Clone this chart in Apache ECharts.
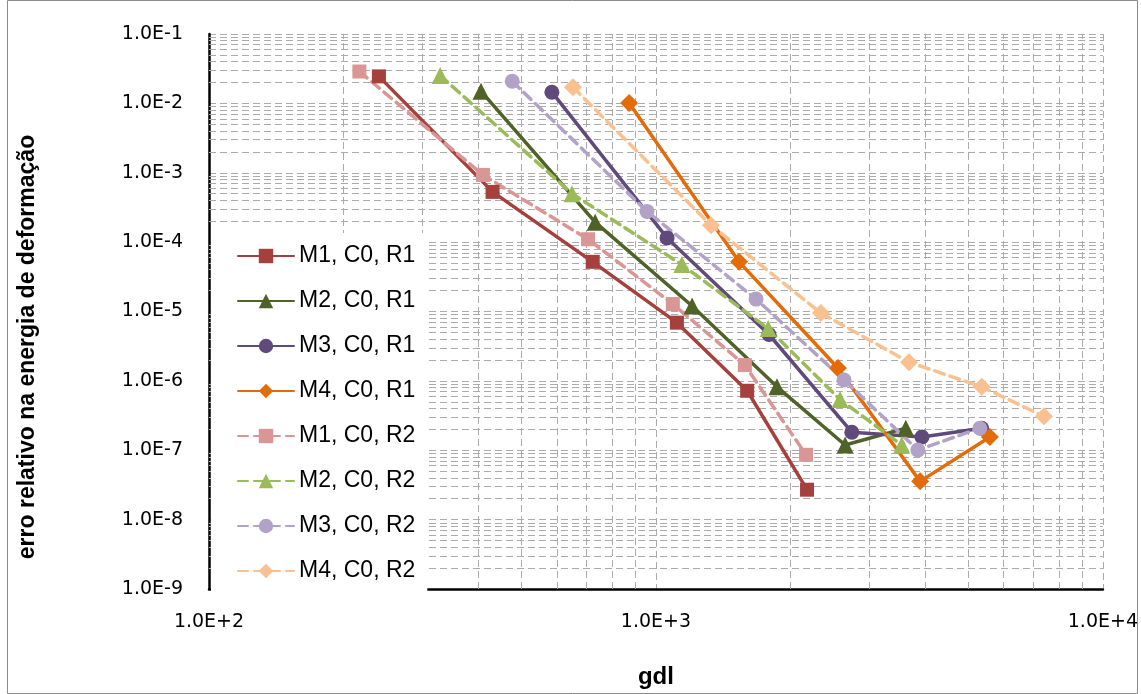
<!DOCTYPE html>
<html><head><meta charset="utf-8">
<script src="https://cdn.jsdelivr.net/npm/echarts@6/dist/echarts.min.js"></script>
<style>html,body{margin:0;padding:0;background:#fff}#c{width:1141px;height:694px}</style>
</head><body><div id="c"></div>
<script>
// ---- data ----
const seriesNames = ['M1, C0, R1','M2, C0, R1','M3, C0, R1','M4, C0, R1','M1, C0, R2','M2, C0, R2','M3, C0, R2','M4, C0, R2'];
const m1r1_x = [240, 431, 722, 1114, 1600, 2178];
const m1r1_y = [0.0245, 5.3e-4, 5.2e-5, 6.9e-6, 7.2e-7, 2.7e-8];
const m2r1_x = [406, 731, 1205, 1866, 2650, 3623];
const m2r1_y = [0.015, 1.94e-4, 1.2e-5, 8.2e-7, 1.19e-7, 2.08e-7];
const m3r1_x = [585, 1059, 1790, 2743, 3937, 5357];
const m3r1_y = [0.0145, 1.15e-4, 4.66e-6, 1.82e-7, 1.55e-7, 2.08e-7];
const m4r1_x = [871, 1535, 2553, 3900, 5586];
const m4r1_y = [0.0101, 5.2e-5, 1.53e-6, 3.56e-8, 1.55e-7];
const m1r2_x = [217, 410, 705, 1091, 1581, 2167];
const m1r2_y = [0.0288, 9.3e-4, 1.1e-4, 1.28e-5, 1.69e-6, 8.6e-8];
const m2r2_x = [329, 649, 1143, 1783, 2582, 3548];
const m2r2_y = [0.0253, 5.0e-4, 4.74e-5, 5.67e-6, 5.37e-7, 1.19e-7];
const m3r2_x = [477, 955, 1675, 2636, 3855, 5306];
const m3r2_y = [0.0208, 2.77e-4, 1.51e-5, 1.03e-6, 1.01e-7, 2.08e-7];
const m4r2_x = [652, 1328, 2339, 3683, 5357, 7380];
const m4r2_y = [0.0171, 1.75e-4, 9.5e-6, 1.86e-6, 8.2e-7, 3.08e-7];
const xTickLabels = ['1.0E+2', '1.0E+3', '1.0E+4'];
const yTickLabels = ['1.0E-9','1.0E-8','1.0E-7','1.0E-6','1.0E-5','1.0E-4','1.0E-3','1.0E-2','1.0E-1'];

// ---- styles ----
const colors = ['#A5403D','#4F6228','#604A7B','#E36C09','#D99694','#9BBB59','#B3A2C7','#FAC08F'];
const symbols = ['rect','triangle','circle','diamond','rect','triangle','circle','diamond'];
const symSizes = [14,17,15,18,14,17,15,18];
const allX = [m1r1_x,m2r1_x,m3r1_x,m4r1_x,m1r2_x,m2r2_x,m3r2_x,m4r2_x];
const allY = [m1r1_y,m2r1_y,m3r1_y,m4r1_y,m1r2_y,m2r2_y,m3r2_y,m4r2_y];
const gridColor = '#ABABAB';
const dash = [7,4];

function zip(a,b){ return a.map((v,i)=>[v,b[i]]); }

const series = seriesNames.map((n,i)=>({
  name:n, type:'line', data: zip(allX[i], allY[i]),
  symbol: symbols[i], symbolSize: symSizes[i], showSymbol:true,
  itemStyle:{color: colors[i], borderWidth:0},
  lineStyle:{color: colors[i], width:3.5, type: i>=4 ? [10,6] : 'solid', cap:'round'},
  z: 3, animation:false
}));

// minor gridlines at 2..9 x 10^k, placed via the axes' scales
const minorX = [], minorY = [];
for (let k=2;k<4;k++) for (let m=2;m<10;m++) minorX.push({xAxis: m*Math.pow(10,k)});
for (let k=-9;k<-1;k++) for (let m=2;m<10;m++) minorY.push({yAxis: m*Math.pow(10,k)});
series.push({
  name:'grid', type:'line', data:[], silent:true, animation:false,
  markLine:{ silent:true, precision:20, symbol:['none','none'], label:{show:false}, animation:false, z:1,
    emphasis:{disabled:true},
    lineStyle:{color:gridColor, width:1, type:dash}, data: minorX.concat(minorY) }
});

function expOf(v){ return Math.round(Math.log10(v)); }

const chart = echarts.init(document.getElementById('c'), null, {renderer:'canvas'});
chart.setOption({
  backgroundColor:'#fff',
  animation:false,
  grid:{left:209, right:38, top:34, bottom:97, containLabel:false},
  xAxis:{ type:'log', logBase:10, min:100, max:10000,
    name:'gdl', nameLocation:'middle', nameGap:76,
    nameTextStyle:{fontFamily:'Liberation Sans', fontWeight:'bold', fontSize:24, color:'#000'},
    axisLine:{show:true, lineStyle:{color:'#000', width:2.5}},
    axisTick:{show:false},
    axisLabel:{margin:24, fontFamily:'DejaVu Sans', fontSize:19, color:'#000',
      formatter:v=>xTickLabels[expOf(v)-2]},
    splitLine:{show:true, lineStyle:{color:gridColor, width:1, type:dash}}
  },
  yAxis:{ type:'log', logBase:10, min:1e-9, max:0.1,
    axisLine:{show:true, lineStyle:{color:'#000', width:2.5}},
    axisTick:{show:false},
    axisLabel:{margin:26, fontFamily:'DejaVu Sans', fontSize:19, color:'#000',
      formatter:v=>yTickLabels[expOf(v)+9]},
    splitLine:{show:true, lineStyle:{color:gridColor, width:1, type:dash}}
  },
  legend:{ data: seriesNames, orient:'vertical', left:211, top:233,
    padding:[11,12,12,26], itemGap:21, itemWidth:56, itemHeight:18,
    backgroundColor:'#fff', z:4,
    textStyle:{fontFamily:'Liberation Sans', fontSize:23, color:'#000', lineHeight:24}
  },
  graphic:[
    {type:'text', x:28, y:347, rotation:Math.PI/2,
     style:{text:'erro relativo na energia de deformação', fontFamily:'Liberation Sans', fontWeight:'bold',
       fontSize:23, fill:'#000', textAlign:'center', textVerticalAlign:'middle'}},
    {type:'rect', shape:{x:7.5, y:0.5, width:1130, height:693}, silent:true,
     style:{fill:'none', stroke:'#8C8C8C', lineWidth:1}}
  ],
  series: series
});
</script></body></html>
